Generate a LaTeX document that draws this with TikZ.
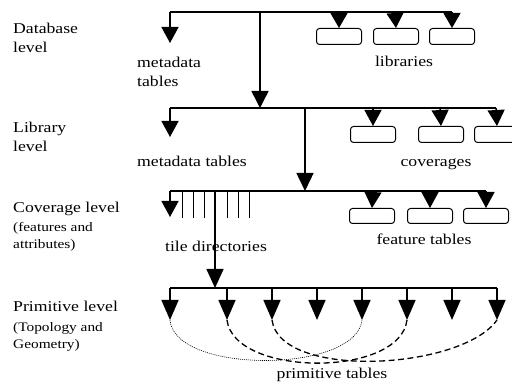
\documentclass[tikz,border=0pt]{standalone}
\usepackage{fontspec}
\setmainfont[FakeStretch=1.18]{Liberation Serif}
\usetikzlibrary{arrows.meta}
\begin{document}
\begin{tikzpicture}[x=1pt,y=-1pt,
  ln/.style={line width=1.45pt},
  thin line/.style={line width=0.9pt},
  arrw/.style={-{Triangle[width=17pt,length=#1]}},
  arrw/.default=16pt,
  tbox/.style={draw,line width=1pt,rounded corners=3pt,minimum width=45pt,minimum height=16pt,inner sep=0pt,anchor=north},
  big/.style={font=\fontsize{15}{19}\selectfont,inner sep=0pt,align=left},
  small/.style={font=\fontsize{13}{17}\selectfont,inner sep=0pt,align=left},
  dotc/.style={line width=0.6pt,dash pattern=on 1pt off 1pt},
  dashc/.style={line width=1.3pt,dash pattern=on 6pt off 3.5pt}]
\useasboundingbox (0,0) rectangle (512,387);
\clip (0,0) rectangle (512,387);

% ---------- Database level ----------
\node[big,anchor=base west] (dbl) at (13,53) {Database\\level};
\coordinate (t0) at (170,12);
\coordinate (tm) at (260,12);
\coordinate (tl1) at (339,12);
\coordinate (tl2) at (395,12);
\coordinate (tl3) at (452,12);
\coordinate (m1) at (170,43);
\node[tbox] (lib1) at (339,28) {};
\node[tbox] (lib2) at (396,28) {};
\node[tbox] (lib3) at (452,28) {};
\node[big,anchor=base west] (mdt1) at (137,87) {metadata\\tables};
\node[big,anchor=base] (libs) at (404,67) {libraries};
\draw[ln] (t0) -- (tl3);
\draw[ln,arrw] (t0) -- (m1);
\draw[ln,arrw=15pt] (tl1) -- (lib1.north);
\draw[ln,arrw=15pt] (tl2) -- (lib2.north);
\draw[ln,arrw=15pt] (tl3) -- (lib3.north);

% ---------- Library level ----------
\node[big,anchor=base west] (lbl) at (13,152) {Library\\level};
\coordinate (l0) at (170,108);
\coordinate (lm) at (260,108);
\coordinate (l2) at (305,108);
\coordinate (lc1) at (373,108);
\coordinate (lc2) at (440,108);
\coordinate (lc3) at (496,108);
\coordinate (m2) at (170,137);
\node[tbox] (cov1) at (373,126) {};
\node[tbox] (cov2) at (441,126) {};
\node[tbox] (cov3) at (497,126) {};
\node[big,anchor=base west] (mdt2) at (137,167) {metadata tables};
\node[big,anchor=base] (covs) at (436,167) {coverages};
\draw[ln,arrw=17pt] (tm) -- (lm);
\draw[ln] (l0) -- (lc3);
\draw[ln,arrw] (l0) -- (m2);
\draw[ln,arrw=16pt] (lc1) -- (cov1.north);
\draw[ln,arrw=16pt] (lc2) -- (cov2.north);
\draw[ln,arrw=16pt] (lc3) -- (cov3.north);

% ---------- Coverage level ----------
\node[big,anchor=base west] (cvl) at (13,213) {Coverage level};
\node[small,anchor=base west] (cvs) at (13,249) {(features and\\attributes)};
\coordinate (c0) at (170,191);
\coordinate (cm) at (305,191);
\coordinate (cf1) at (373,191);
\coordinate (cf2) at (430,191);
\coordinate (cf3) at (486,191);
\coordinate (m3) at (170,217);
\node[tbox,minimum height=15pt] (ft1) at (372,208) {};
\node[tbox,minimum height=15pt] (ft2) at (430,208) {};
\node[tbox,minimum height=15pt] (ft3) at (486,208) {};
\node[big,anchor=base] (tdir) at (216,252) {tile directories};
\node[big,anchor=base] (fts) at (424,245) {feature tables};
\draw[ln,arrw=18pt] (l2) -- (cm);
\draw[ln] (c0) -- (cf3);
\draw[ln,arrw] (c0) -- (m3);
\draw[ln,arrw=16pt] (cf1) -- (ft1.north);
\draw[ln,arrw=16pt] (cf2) -- (ft2.north);
\draw[ln,arrw=16pt] (cf3) -- (ft3.north);
\foreach \x in {182,193,204,227,238,249}
  \draw[thin line] (\x,191) -- (\x,218);
\coordinate (td) at (215,191);

% ---------- Primitive level ----------
\node[big,anchor=base west] (pvl) at (13,312) {Primitive level};
\node[small,anchor=base west] (pvs) at (13,349) {(Topology and\\Geometry)};
\coordinate (pm) at (215,288);
\draw[ln,arrw=19pt] (td) -- (pm);
\coordinate (pl0) at (170,288);
\coordinate (pl8) at (497,288);
\draw[ln] (pl0) -- (pl8);
\foreach \i/\x in {1/170,2/227,3/272,4/317,5/362,6/407,7/452,8/497}{
  \coordinate (q\i) at (\x,288);
  \coordinate (p\i) at (\x,320);
  \draw[ln,arrw=20pt] (q\i) -- (p\i);
}
\draw[dotc] (p1) .. controls (174,374) and (356,374) .. (p5);
\draw[dashc] (p2) .. controls (234,377) and (400,378) .. (p6);
\draw[dashc] (p3) .. controls (280,380) and (462,370) .. (p8);
\node[big,anchor=base] (prim) at (332,379) {primitive tables};
\end{tikzpicture}
\end{document}
